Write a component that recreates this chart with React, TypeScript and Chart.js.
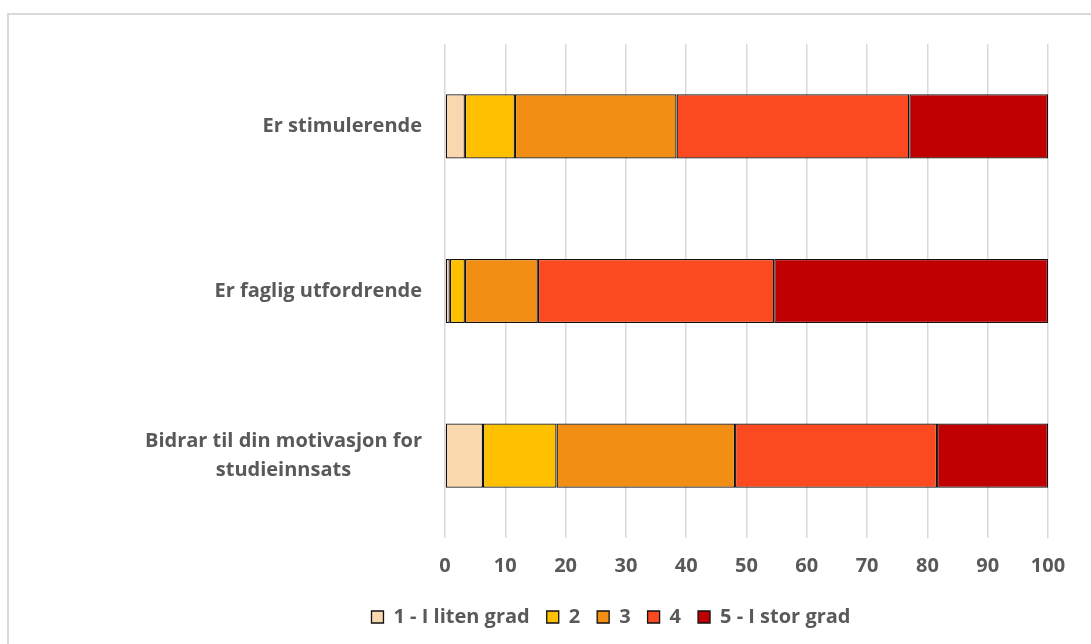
import React, { useEffect, useRef } from "react";
import { Chart, registerables } from "chart.js";

Chart.register(...registerables);

const categories: (string | string[])[] = [
  "Er stimulerende",
  "Er faglig utfordrende",
  ["Bidrar til din motivasjon for", "studieinnsats"],
];

const seriesNames = ["1 - I liten grad", "2", "3", "4", "5 - I stor grad"];
const s1 = [3.3, 0.8, 6.3];
const s2 = [8.3, 2.5, 12.2];
const s3 = [26.8, 12.1, 29.6];
const s4 = [38.6, 39.2, 33.5];
const s5 = [23.0, 45.4, 18.4];
const seriesValues = [s1, s2, s3, s4, s5];
const seriesColors = ["#F9D8AE", "#FFC000", "#F28E13", "#FC4A20", "#C00000"];
const xTicks = [0, 10, 20, 30, 40, 50, 60, 70, 80, 90, 100];

const FONT = "'Open Sans', Lato, sans-serif";
const TEXT = "#595959";
const FSIZE = 20;

const yLabelPlugin = {
  id: "yLabels",
  afterDraw(chart: any) {
    const { ctx, chartArea } = chart;
    const y = chart.scales.y;
    ctx.save();
    ctx.font = `bold ${FSIZE}px ${FONT}`;
    ctx.fillStyle = TEXT;
    ctx.textBaseline = "middle";
    ctx.textAlign = "center";
    const lineH = 29;
    const rightEdge = chartArea.left - 23;
    categories.forEach((lab, i) => {
      const lines = Array.isArray(lab) ? lab : [lab];
      const cy = y.getPixelForValue(i);
      const w = Math.max(...lines.map((l) => ctx.measureText(l).width));
      const cx = rightEdge - w / 2;
      lines.forEach((l, j) =>
        ctx.fillText(l, cx, cy + (j - (lines.length - 1) / 2) * lineH)
      );
    });
    ctx.restore();
  },
};

export default function App() {
  const ref = useRef<HTMLCanvasElement>(null);
  useEffect(() => {
    if (!ref.current) return;
    const chart = new Chart(ref.current, {
      type: "bar",
      data: {
        labels: categories as any,
        datasets: seriesNames.map((name, i) => ({
          label: name,
          data: seriesValues[i],
          backgroundColor: seriesColors[i],
          borderColor: "#111111",
          borderWidth: 1.3,
          borderSkipped: false,
          barPercentage: 0.39,
          categoryPercentage: 1,
          xAxisID: "x",
          yAxisID: "y",
        })),
      },
      options: {
        indexAxis: "y",
        responsive: false,
        animation: false,
        layout: { padding: { top: 29, bottom: 7, left: 0, right: 0 } },
        plugins: {
          tooltip: { enabled: false },
          legend: {
            position: "bottom",
            labels: {
              boxWidth: 12,
              boxHeight: 12,
              padding: 17,
              color: TEXT,
              font: { family: FONT, size: FSIZE, weight: "bold" },
            },
          },
        },
        scales: {
          x: {
            type: "linear",
            stacked: true,
            min: 0,
            max: 100,
            afterBuildTicks: (s: any) => {
              s.ticks = xTicks.map((v) => ({ value: v }));
            },
            afterFit: (s: any) => {
              s.height = 52;
            },
            grid: { color: "#d9d9d9", lineWidth: 1.5, drawTicks: false },
            border: { display: false },
            ticks: {
              padding: 16,
              color: TEXT,
              font: { family: FONT, size: FSIZE, weight: "bold" },
            },
          },
          y: {
            type: "category",
            stacked: true,
            position: "left",
            grid: { display: false },
            border: { display: false },
            ticks: { display: false },
            afterFit: (s: any) => {
              s.width = 436;
            },
          },
          y2: {
            type: "linear",
            position: "right",
            display: true,
            grid: { display: false },
            border: { display: false },
            ticks: { display: false },
            afterFit: (s: any) => {
              s.width = 165;
            },
          },
        },
      } as any,
      plugins: [yLabelPlugin],
    });
    return () => chart.destroy();
  }, []);

  return (
    <div
      style={{
        position: "absolute",
        left: 7,
        top: 13,
        width: 1084,
        height: 631,
        boxSizing: "border-box",
        borderTop: "2px solid #d9d9d9",
        borderLeft: "2px solid #d9d9d9",
        overflow: "hidden",
        background: "#fff",
      }}
    >
      <canvas
        ref={ref}
        width={1204}
        height={629}
        style={{ display: "block", width: 1204, height: 629 }}
      />
    </div>
  );
}
